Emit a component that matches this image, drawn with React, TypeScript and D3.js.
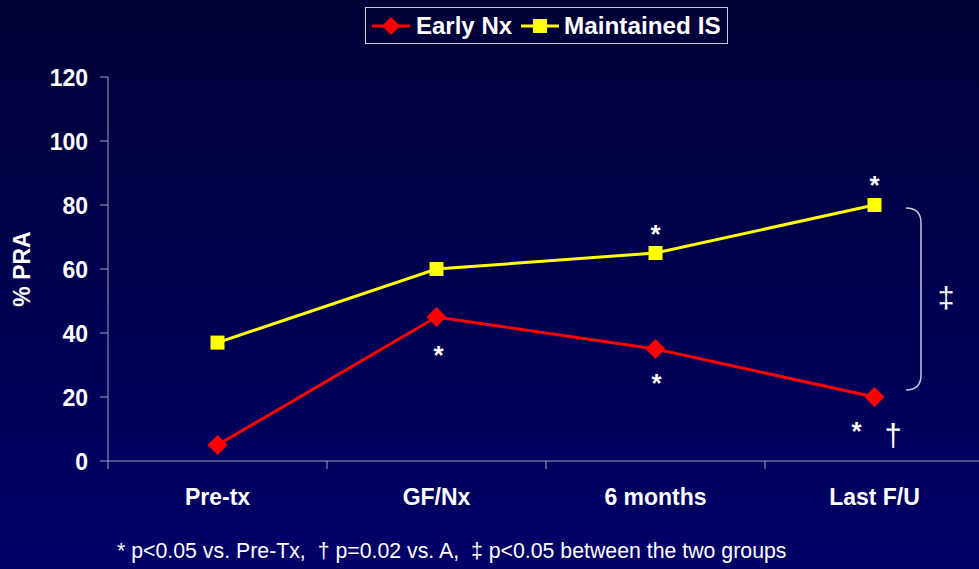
import React from "react";
import * as d3 from "d3";

const categories = ["Pre-tx", "GF/Nx", "6 months", "Last F/U"];
const earlyNx = [5, 45, 35, 20];
const maintainedIS = [37, 60, 65, 80];
const yTicks = [0, 20, 40, 60, 80, 100, 120];
const seriesNames = ["Early Nx", "Maintained IS"];
const footnote = "* p<0.05 vs. Pre-Tx,  \u2020 p=0.02 vs. A,  \u2021 p<0.05 between the two groups";

const W = 979;
const H = 569;
const FONT = "Liberation Sans, Arial, Helvetica, sans-serif";

export default function App() {
  const x = d3.scaleBand<string>().domain(categories).range([108, 984]);
  const y = d3.scaleLinear().domain([0, 120]).range([461, 77]);
  const cx = (c: string) => (x(c) as number) + x.bandwidth() / 2;

  const line = d3
    .line<number>()
    .x((_, i) => cx(categories[i]))
    .y((d) => y(d));

  const diamond = (px: number, py: number, r: number) =>
    `M${px},${py - r}L${px + r},${py}L${px},${py + r}L${px - r},${py}Z`;

  // bracket
  const bx0 = 906;
  const bx1 = 921;
  const bTop = y(80) + 3;
  const bBot = y(20) - 7;
  const rr = 15;
  const bracket = `M${bx0},${bTop} Q${bx1},${bTop} ${bx1},${bTop + rr} L${bx1},${bBot - rr} Q${bx1},${bBot} ${bx0},${bBot}`;

  const stars: [number, number][] = [
    [cx(categories[2]), y(maintainedIS[2]) - 10],
    [cx(categories[3]), y(maintainedIS[3]) - 11],
    [cx(categories[1]) + 2, y(earlyNx[1]) + 47],
    [cx(categories[2]) + 1, y(earlyNx[2]) + 43],
    [cx(categories[3]) - 18, y(earlyNx[3]) + 43],
  ];

  return (
    <svg
      width={W}
      height={H}
      style={{ position: "absolute", left: 0, top: 0, display: "block" }}
    >
      <defs>
        <linearGradient id="bg" x1="0" y1="0" x2="0" y2="1">
          <stop offset="0%" stopColor="#000036" />
          <stop offset="100%" stopColor="#000068" />
        </linearGradient>
      </defs>
      <rect x={0} y={0} width={W} height={H} fill="url(#bg)" />

      {/* legend */}
      <rect x={365.5} y={7.5} width={362} height={36} fill="none" stroke="#c8c8d8" strokeWidth={1} />
      <line x1={372} x2={410} y1={26} y2={26} stroke="#ff0000" strokeWidth={3} />
      <path d={diamond(391, 26, 9)} fill="#ff0000" />
      <text x={416} y={34} fill="#fff" fontFamily={FONT} fontWeight="bold" fontSize={24}>
        {seriesNames[0]}
      </text>
      <line x1={521} x2={559} y1={26} y2={26} stroke="#ffff00" strokeWidth={3} />
      <rect x={533} y={19} width={14} height={14} fill="#ffff00" />
      <text x={564} y={34} fill="#fff" fontFamily={FONT} fontWeight="bold" fontSize={24.3}>
        {seriesNames[1]}
      </text>

      {/* y axis */}
      <line x1={108} x2={108} y1={y(120)} y2={y(0) + 8} stroke="#a0a0c0" strokeWidth={1} />
      {yTicks.map((t) => (
        <g key={t}>
          <line x1={100} x2={108} y1={y(t)} y2={y(t)} stroke="#a0a0c0" strokeWidth={1} />
          <text
            x={88}
            y={y(t) + 8.5}
            textAnchor="end"
            fill="#fff"
            fontFamily={FONT}
            fontWeight="bold"
            fontSize={23}
          >
            {t}
          </text>
        </g>
      ))}
      <text
        transform={`translate(30,${y(60)}) rotate(-90)`}
        textAnchor="middle"
        fill="#fff"
        fontFamily={FONT}
        fontWeight="bold"
        fontSize={23}
      >
        % PRA
      </text>

      {/* x axis */}
      <line x1={108} x2={W} y1={y(0)} y2={y(0)} stroke="#a0a0c0" strokeWidth={1} />
      {categories.slice(1).map((c) => (
        <line
          key={c}
          x1={x(c) as number}
          x2={x(c) as number}
          y1={y(0)}
          y2={y(0) + 8}
          stroke="#a0a0c0"
          strokeWidth={1}
        />
      ))}
      {categories.map((c) => (
        <text
          key={c}
          x={cx(c)}
          y={505}
          textAnchor="middle"
          fill="#fff"
          fontFamily={FONT}
          fontWeight="bold"
          fontSize={23}
        >
          {c}
        </text>
      ))}

      {/* series */}
      <path d={line(maintainedIS) as string} fill="none" stroke="#ffff00" strokeWidth={3} />
      <path d={line(earlyNx) as string} fill="none" stroke="#ff0000" strokeWidth={3} />
      {maintainedIS.map((v, i) => (
        <rect
          key={"m" + i}
          x={cx(categories[i]) - 7}
          y={y(v) - 7}
          width={14}
          height={14}
          fill="#ffff00"
        />
      ))}
      {earlyNx.map((v, i) => (
        <path key={"e" + i} d={diamond(cx(categories[i]), y(v), 10)} fill="#ff0000" />
      ))}

      {/* significance marks */}
      {stars.map(([px, py], i) => (
        <text
          key={"s" + i}
          x={px}
          y={py}
          textAnchor="middle"
          fill="#fff"
          fontFamily={FONT}
          fontWeight="bold"
          fontSize={26}
        >
          *
        </text>
      ))}
      <text x={893} y={446} textAnchor="middle" fill="#fff" fontFamily={FONT} fontSize={31}>
        {"\u2020"}
      </text>
      <path d={bracket} fill="none" stroke="#c8c8d8" strokeWidth={1.5} />
      <text x={946} y={308} textAnchor="middle" fill="#fff" fontFamily={FONT} fontSize={30}>
        {"\u2021"}
      </text>

      {/* footnote */}
      <text
        x={117}
        y={558}
        fill="#fff"
        fontFamily={FONT}
        fontSize={21.3}
        style={{ whiteSpace: "pre" }}
      >
        {footnote}
      </text>
    </svg>
  );
}
